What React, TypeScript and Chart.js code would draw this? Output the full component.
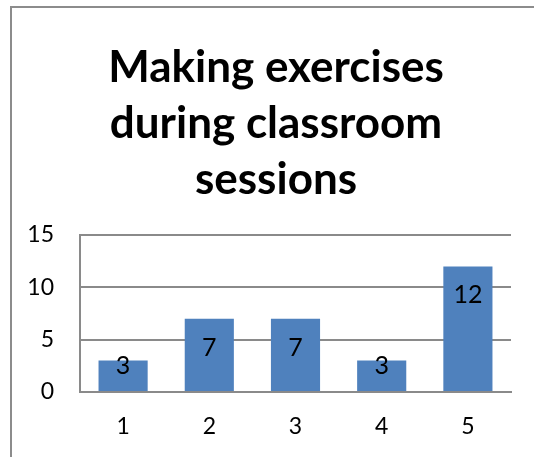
import React, { useEffect, useRef } from "react";
import { Chart, registerables } from "chart.js";

Chart.register(...registerables);

const categories = ["1", "2", "3", "4", "5"];
const counts = [3, 7, 7, 3, 12];
const titleLines = ["Making exercises", "during classroom", "sessions"];
const yTicks = [0, 5, 10, 15];

const FONT = "Lato, 'Open Sans', sans-serif";
const GRID = "#8a8a8a";

// Draws the three-line heading above the plot.
const headingPlugin = {
  id: "heading",
  afterDraw(chart: any) {
    const { ctx } = chart;
    ctx.save();
    ctx.fillStyle = "#000";
    ctx.font = `bold 44px ${FONT}`;
    ctx.textAlign = "center";
    ctx.textBaseline = "alphabetic";
    titleLines.forEach((line, i) => {
      ctx.fillText(line, 276, 82 + i * 56);
    });
    ctx.restore();
  },
};

// Writes each bar's value near the top inside the bar.
const valueLabelPlugin = {
  id: "valueLabels",
  afterDatasetsDraw(chart: any) {
    const { ctx } = chart;
    const meta = chart.getDatasetMeta(0);
    const data = chart.data.datasets[0].data as number[];
    ctx.save();
    ctx.fillStyle = "#000";
    ctx.font = `25px ${FONT}`;
    ctx.textAlign = "center";
    ctx.textBaseline = "middle";
    meta.data.forEach((bar: any, i: number) => {
      const h = bar.base - bar.y;
      const cy = h > 50 ? bar.y + 29 : bar.y + 5;
      ctx.fillText(String(data[i]), bar.x, cy);
    });
    ctx.restore();
  },
};

export default function App() {
  const ref = useRef<HTMLCanvasElement | null>(null);

  useEffect(() => {
    if (!ref.current) return;
    const chart = new Chart(ref.current, {
      type: "bar",
      data: {
        labels: categories,
        datasets: [
          {
            data: counts,
            backgroundColor: "#4F81BD",
            borderWidth: 0,
            categoryPercentage: 1,
            barPercentage: 0.57,
          },
        ],
      },
      options: {
        responsive: false,
        animation: false,
        layout: { padding: { top: 235, bottom: 0, left: 0, right: 23 } },
        plugins: {
          legend: { display: false },
          title: { display: false },
          tooltip: { enabled: false },
        },
        scales: {
          x: {
            grid: { display: false, drawTicks: false },
            border: { display: true, color: GRID, width: 2 },
            ticks: {
              color: "#000",
              font: { family: FONT, size: 23 },
              padding: 21,
            },
            afterFit(scale: any) {
              scale.height = 65;
            },
          },
          y: {
            min: 0,
            max: 15,
            afterBuildTicks(scale: any) {
              scale.ticks = yTicks.map((v) => ({ value: v }));
            },
            grid: { color: GRID, lineWidth: 2, drawTicks: false },
            border: { display: true, color: GRID, width: 2 },
            ticks: {
              color: "#000",
              font: { family: FONT, size: 23 },
              padding: 26,
            },
            afterFit(scale: any) {
              scale.width = 80;
            },
          },
        },
      },
      plugins: [headingPlugin, valueLabelPlugin],
    });
    return () => chart.destroy();
  }, []);

  return (
    <div style={{ position: "fixed", left: 0, top: 0, width: 534, height: 457, background: "#fff", overflow: "hidden" }}>
      <div
        style={{
          position: "absolute",
          left: 10,
          top: 6,
          width: 600,
          height: 600,
          borderLeft: "2px solid #8c8c8c",
          borderTop: "2px solid #8c8c8c",
        }}
      />
      <canvas ref={ref} width={534} height={457} style={{ position: "absolute", left: 0, top: 0, display: "block" }} />
    </div>
  );
}
